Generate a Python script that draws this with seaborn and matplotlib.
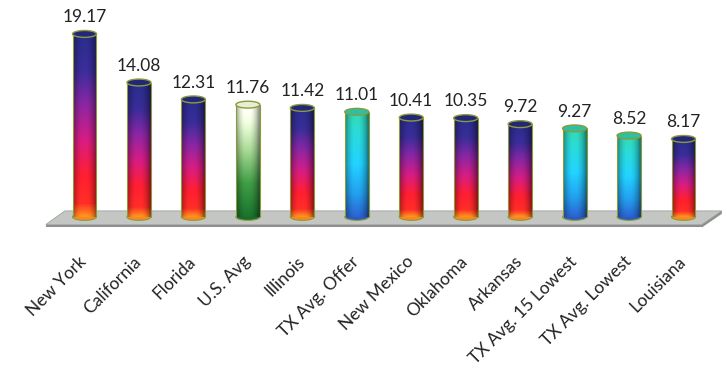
import numpy as np
import pandas as pd
import matplotlib
matplotlib.use("Agg")
import matplotlib.pyplot as plt
from matplotlib.colors import LinearSegmentedColormap
from matplotlib.patches import Ellipse, Polygon
from matplotlib.transforms import ScaledTranslation
import seaborn as sns

# data
states = ["New York", "California", "Florida", "U.S. Avg", "Illinois", "TX Avg. Offer",
          "New Mexico", "Oklahoma", "Arkansas", "TX Avg. 15 Lowest", "TX Avg. Lowest", "Louisiana"]
rates = [19.17, 14.08, 12.31, 11.76, 11.42, 11.01, 10.41, 10.35, 9.72, 9.27, 8.52, 8.17]
styles = ["red", "red", "red", "green", "red", "cyan", "red", "red", "red", "cyan", "cyan", "red"]

sns.set_theme(style="white")
plt.rcParams["font.family"] = ["Lato", "DejaVu Sans"]

# gradients, bottom -> top
cmaps = {
    "red": LinearSegmentedColormap.from_list("r", [(0, "#ff8a1c"), (0.07, "#f22a24"), (0.22, "#ec1c2c"),
                                                  (0.42, "#c41a78"), (0.62, "#7c2396"), (0.8, "#35298c"),
                                                  (1, "#25297e")]),
    "green": LinearSegmentedColormap.from_list("g", [(0, "#17692a"), (0.3, "#3a9040"), (0.6, "#9cc88a"),
                                                    (0.85, "#dfecd0"), (1, "#f3f6ea")]),
    "cyan": LinearSegmentedColormap.from_list("c", [(0, "#285ac0"), (0.22, "#2092da"), (0.5, "#1fc0ea"),
                                                   (0.8, "#27c8c4"), (1, "#2fc6a0")]),
}
caps = {"red": "#232778", "green": "#e6eed6", "cyan": "#2ec0a0"}
bottoms = {"red": "#f58a20", "green": "#1b6a2c", "cyan": "#2a5cbc"}
edge = "#8c9a3c"

fig = plt.figure(figsize=(7.27, 3.69), dpi=100)
ax = fig.add_axes([0.0788, 0.3604, 0.8988, 0.5821])

sns.barplot(x=states, y=rates, width=0.44, color="white", ax=ax)

# floor (runs past the axes edges, so no clipping)
ax.add_patch(Polygon([(-0.36, 0.63), (11.705, 0.63), (11.34, -0.8), (-0.71, -0.8)],
                     closed=True, facecolor="#c4c6c3", edgecolor="#a0a29f", lw=0.6, zorder=1,
                     clip_on=False))
ax.add_patch(Polygon([(-0.71, -0.8), (11.34, -0.8), (11.34, -1.1), (-0.71, -1.1)],
                     closed=True, facecolor="#8e908d", edgecolor="none", zorder=1, clip_on=False))
ax.add_patch(Polygon([(11.34, -0.8), (11.705, 0.63), (11.705, 0.33), (11.34, -1.1)],
                     closed=True, facecolor="#8e908d", edgecolor="none", zorder=1, clip_on=False))

cap_h = 0.72
u = np.linspace(0, 1, 60)
shade = 0.62 + 0.5 * np.sin(np.pi * np.clip(u * 1.05, 0, 1)) ** 0.7
shade = np.minimum(shade, 1.1)

for p, val, st in zip(ax.patches, rates, styles):
    x0, w = p.get_x(), p.get_width()
    h = p.get_height()
    p.set_visible(False)
    cx = x0 + w / 2
    # bottom ellipse
    ax.add_patch(Ellipse((cx, 0), w, cap_h, facecolor=bottoms[st], edgecolor=edge, lw=0.8, zorder=2))
    # body: vertical gradient + horizontal cylinder shading
    t = np.linspace(0, 1, 200)[:, None]
    rgb = cmaps[st](t)[:, :, :3] * np.ones((1, len(u), 1))
    img = np.clip(rgb * shade[None, :, None], 0, 1)
    ax.imshow(img, extent=[x0, x0 + w, 0, h], origin="lower", aspect="auto", zorder=3,
              interpolation="bilinear")
    ax.plot([x0, x0], [0, h], color=edge, lw=0.8, zorder=3.5)
    ax.plot([x0 + w, x0 + w], [0, h], color=edge, lw=0.8, zorder=3.5)
    # top cap
    ax.add_patch(Ellipse((cx, h), w, cap_h, facecolor=caps[st], edgecolor=edge, lw=1.0, zorder=4))
    ax.annotate(f"{val:.2f}", (cx, h), xytext=(0, 8.5), textcoords="offset points",
                ha="center", va="baseline", fontsize=12.5, color="#222222")

ax.set_xlim(-0.5, 11.5)
ax.set_ylim(-2, 20.5)
ax.set_yticks([])
ax.set_xticks(range(len(states)))
ax.set_xticklabels(states, rotation=45, ha="right", rotation_mode="anchor", fontsize=12.5, color="#222222")
ax.tick_params(axis="x", length=0, pad=12.5)
for lbl in ax.get_xticklabels():
    lbl.set_transform(lbl.get_transform() + ScaledTranslation(-0.06, 0, fig.dpi_scale_trans))
ax.set_xlabel("")
ax.set_ylabel("")
sns.despine(ax=ax, left=True, bottom=True)

fig.savefig("out.png", dpi=100)
